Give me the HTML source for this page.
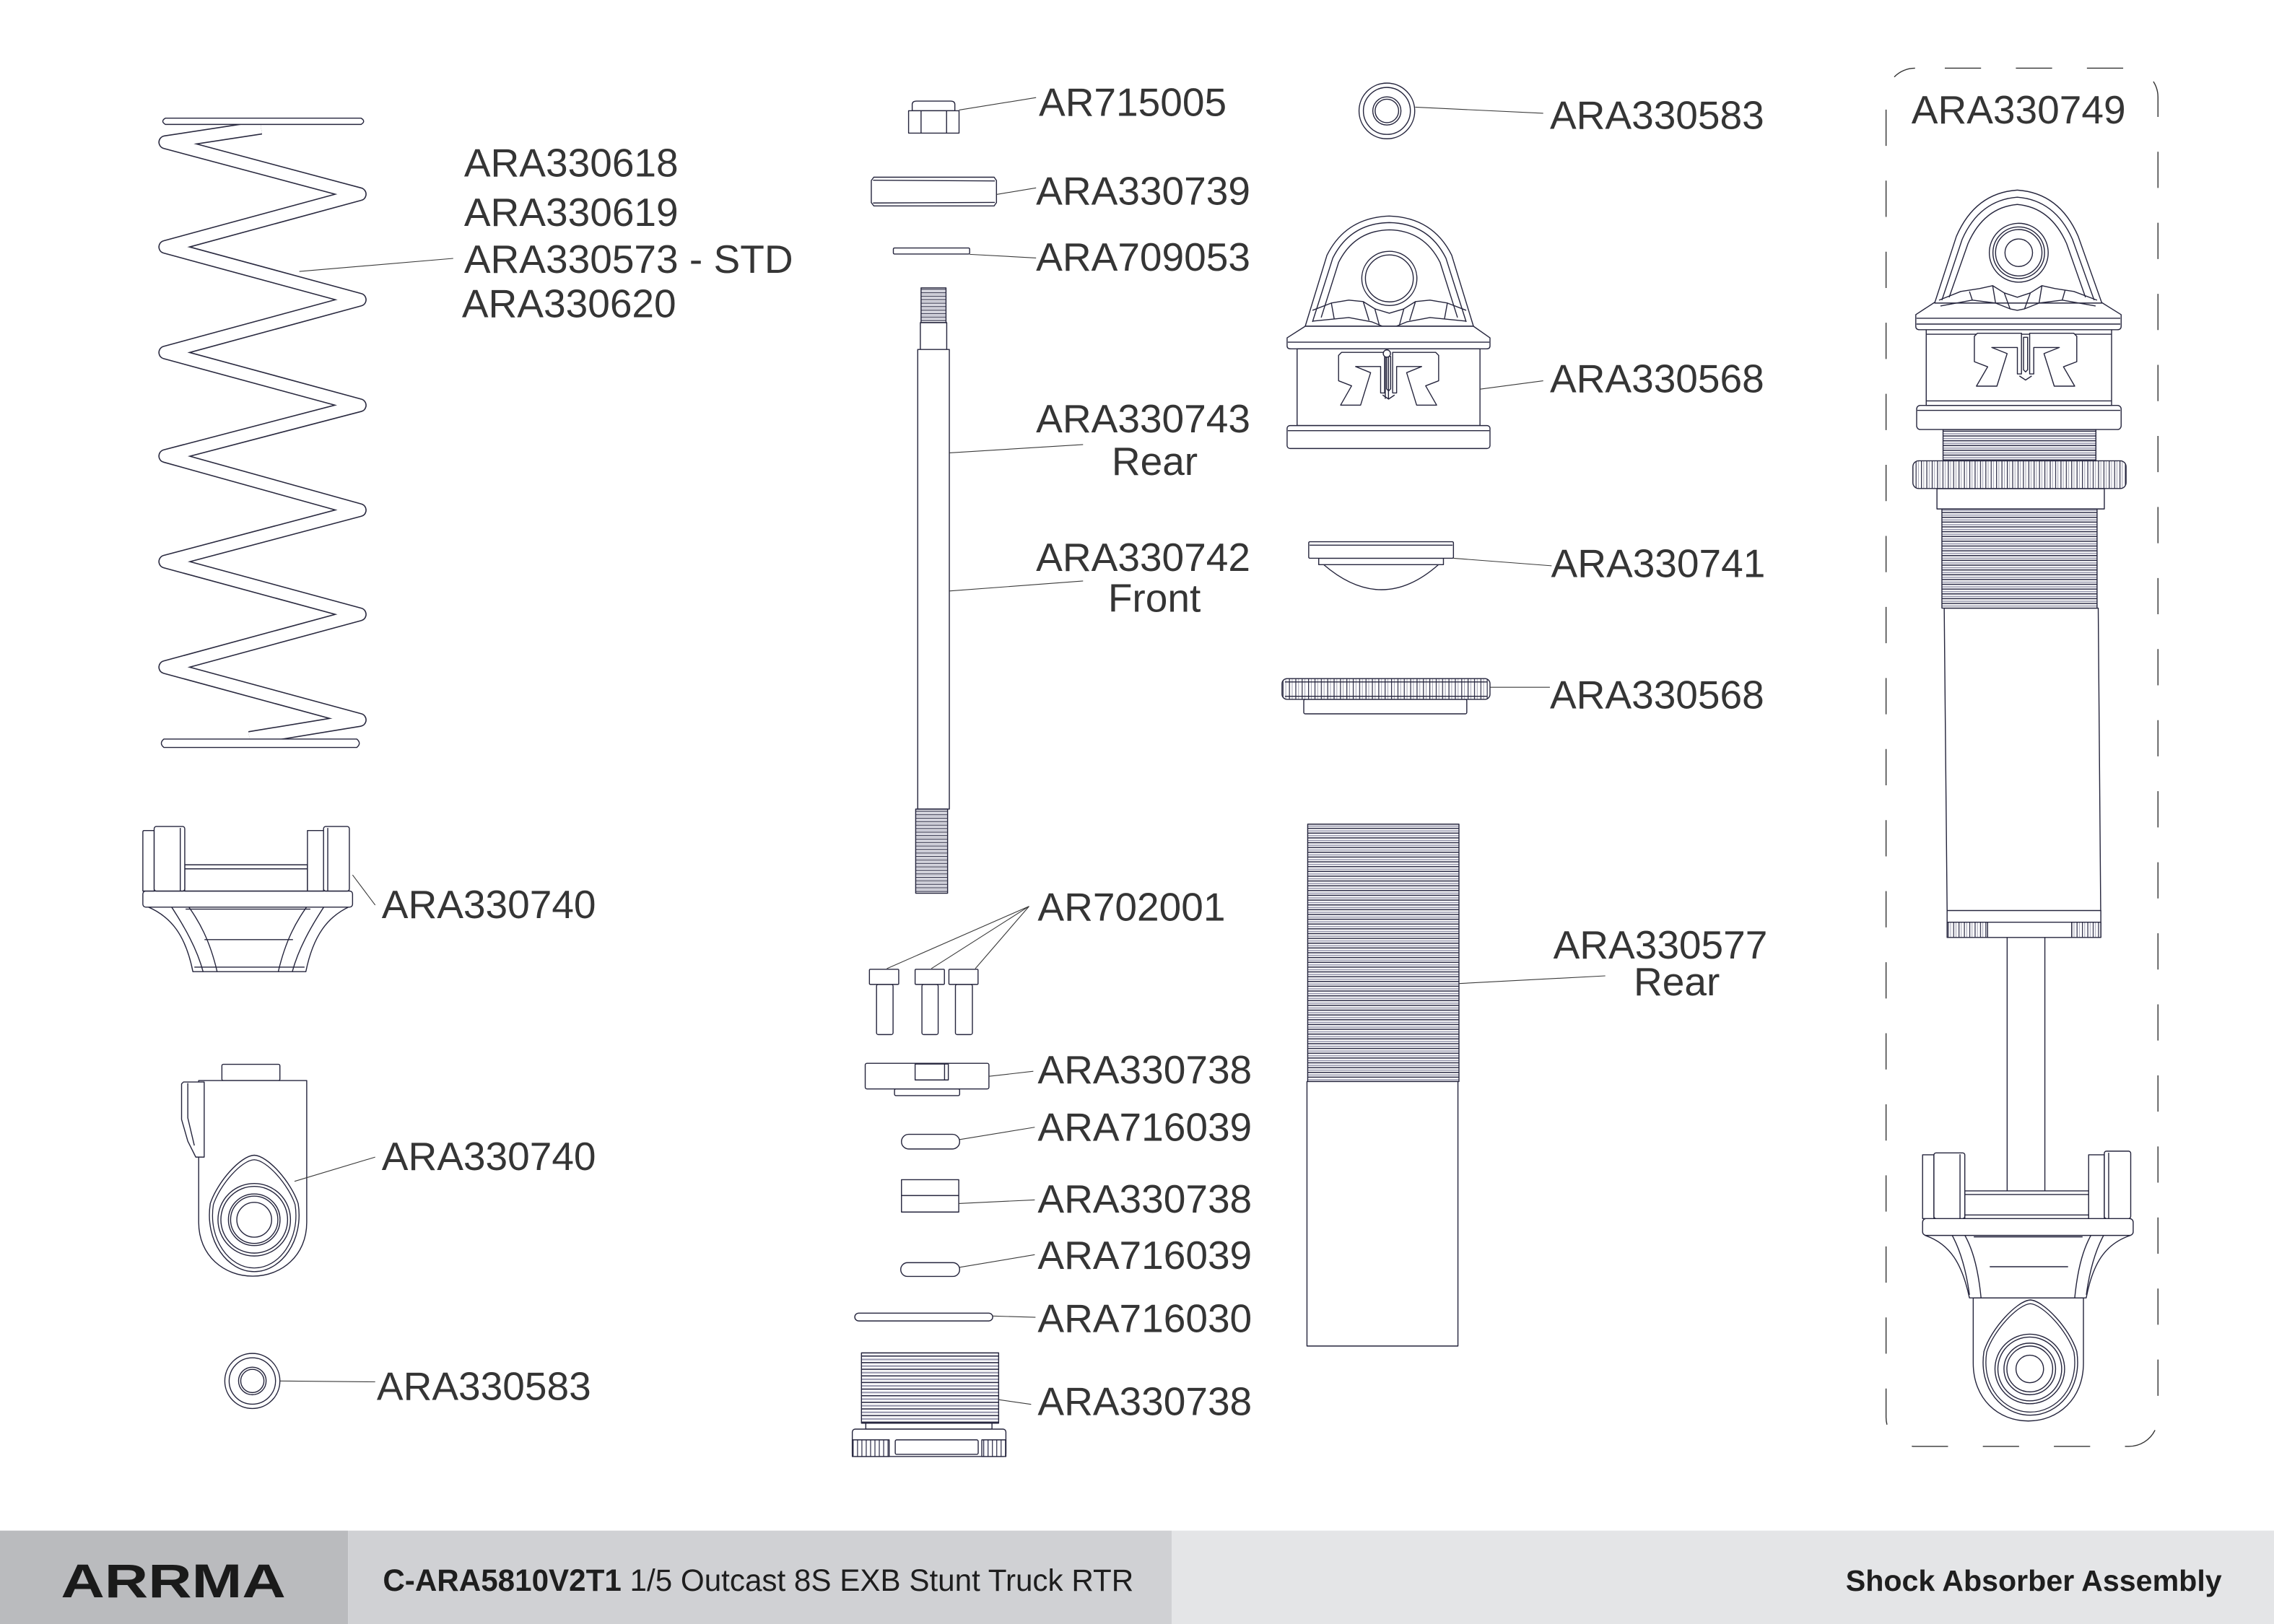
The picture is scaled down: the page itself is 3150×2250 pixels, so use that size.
<!DOCTYPE html>
<html><head><meta charset="utf-8">
<style>
html,body{margin:0;padding:0;background:#fff;}
svg{display:block;}
text{font-family:"Liberation Sans",Arial,sans-serif;}
</style></head><body>
<svg xmlns="http://www.w3.org/2000/svg" width="3150" height="2250" viewBox="0 0 1568 1120">
<defs>
<pattern id="t24" patternUnits="userSpaceOnUse" width="20" height="2.4"><rect width="20" height="2.4" fill="#fff"/><rect y="0" width="20" height="0.6" fill="#2a2a45"/><rect y="1.3" width="20" height="0.5" fill="#9a9ab0"/></pattern>
<pattern id="t33" patternUnits="userSpaceOnUse" width="20" height="3.3"><rect width="20" height="3.3" fill="#fff"/><rect y="0" width="20" height="0.75" fill="#2a2a45"/><rect y="1.8" width="20" height="0.7" fill="#8d8da5"/></pattern>
<pattern id="t46" patternUnits="userSpaceOnUse" width="20" height="4.56"><rect width="20" height="4.56" fill="#fff"/><rect y="0" width="20" height="0.8" fill="#2a2a45"/><rect y="2.2" width="20" height="1.1" fill="#9a9ab0"/></pattern>
<pattern id="k37" patternUnits="userSpaceOnUse" width="3.7" height="10"><rect width="3.7" height="10" fill="#fff"/><rect x="0" width="0.6" height="10" fill="#2a2a45"/><rect x="1.7" width="0.4" height="10" fill="#8a8aa0"/></pattern>
<pattern id="k44" patternUnits="userSpaceOnUse" width="4.4" height="10"><rect width="4.4" height="10" fill="#fff"/><rect x="0" width="0.6" height="10" fill="#2a2a45"/><rect x="2" width="0.4" height="10" fill="#8a8aa0"/></pattern>
<pattern id="k30" patternUnits="userSpaceOnUse" width="3" height="10"><rect width="3" height="10" fill="#fff"/><rect x="0" width="0.6" height="10" fill="#2a2a45"/></pattern>
<g id="emb">
<path d="M0,3 L3,0 L46,0 L46,40 L42,40 L42,14 L17,14 L32,20 L22,52 L2,52 L13,33 L0,28 Z"/>
<path d="M100,3 L97,0 L54,0 L54,40 L58,40 L58,14 L83,14 L68,20 L78,52 L98,52 L87,33 L100,28 Z"/>
<path d="M48,4 L52,4 L52,36 L50,38 L48,36 Z"/>
<path d="M44,42 L50,46 L56,42" fill="none"/>
</g>
</defs>
<rect width="1568" height="1120" fill="#fff"/>

<!-- ============ SPRING ============ -->
<path d="M180,88 L114,98.1 L248,133.9 L114,170.3 L248,206.7 L114,243.1 L248,279.5 L114,314.5 L248,351.8 L114,387.3 L248,423.7 L114,460.1 L248,496.5 L172,509" fill="none" stroke="#2a2a40" stroke-width="9.6" stroke-linejoin="round"/>
<path d="M180,88 L114,98.1 L248,133.9 L114,170.3 L248,206.7 L114,243.1 L248,279.5 L114,314.5 L248,351.8 L114,387.3 L248,423.7 L114,460.1 L248,496.5 L172,509" fill="none" stroke="#fff" stroke-width="8.0" stroke-linejoin="round"/>

<g fill="#fff" stroke="#25253d" stroke-width="0.7" stroke-linejoin="round">
<path d="M114,81.5 L249,81.5 Q252.5,83.6 249,85.8 L114,85.8 Q110.5,83.6 114,81.5 Z"/>
<path d="M113,509.7 L246,509.7 Q249.5,512.6 246,515.5 L113,515.5 Q109.5,512.6 113,509.7 Z"/>

<!-- ============ MOUNT 1 (left) ============ -->
<path d="M101,625 C118,632 128,645 133,670.1 L210.9,670.1 C216,645 226,632 241.5,625 Z"/>
<path d="M126,620 C138,635 145,650 149.7,670 M116,622 C128,640 136,655 140,670 M215.6,620 C203.6,635 196.6,650 191.9,670 M225.6,622 C213.6,640 205.6,655 201.6,670 M128,627 L214,627 M141,648 L202,648 M134,667 L210,667" fill="none"/>
<rect x="98.5" y="614.5" width="144.6" height="11.1" rx="2"/>
<rect x="127.4" y="596.4" width="84.6" height="18.1"/>
<path d="M127.4,599.2 L212,599.2" fill="none"/>
<path d="M98.5,614.5 L98.5,573.8 Q98.5,572.8 99.5,572.8 L106.3,572.8 L106.3,614.5 Z"/>
<rect x="106.3" y="570" width="21.1" height="44.5" rx="1.5"/>
<path d="M124.3,571 L124.3,614.5" fill="none"/>
<rect x="212" y="572.8" width="11.1" height="41.7"/>
<rect x="223.1" y="570" width="17.8" height="44.5" rx="1.5"/>
<path d="M226,571 L226,614.5" fill="none"/>

<!-- ============ MOUNT 2 (left) ============ -->
<rect x="153" y="734" width="40" height="11.2" rx="1"/>
<path d="M137,745.2 L211.5,745.2 L211.5,843 C211.5,866 194,880.1 174.3,880.1 C154.5,880.1 137,866 137,843 Z"/>
<path d="M125.2,747.5 L126.5,746.2 L140.8,746.2 L140.8,798 L135,798 L129.5,787 L125.2,772 Z"/>
<path d="M129.5,747 L129.5,771 L134,790" fill="none"/>
<path d="M175.3,796.7 C166,797 150,815 145,830 C141,856 157,877 175.3,877 C193.6,877 209.6,856 205.6,830 C200.6,815 184.6,797 175.3,796.7 Z"/>
<path d="M175.3,796.7 C166,797 150,815 145,830 C141,856 157,877 175.3,877 C193.6,877 209.6,856 205.6,830 C200.6,815 184.6,797 175.3,796.7 Z" transform="translate(175.3,841) scale(0.93) translate(-175.3,-841)"/>
<circle cx="175.3" cy="841.2" r="25"/>
<circle cx="175.3" cy="841.2" r="23"/>
<circle cx="175.3" cy="841.2" r="17.8"/>
<circle cx="175.3" cy="841.2" r="16.3"/>
<circle cx="175.3" cy="841.2" r="12"/>

<!-- washer left -->
<circle cx="174" cy="952.4" r="19"/>
<circle cx="174" cy="952.4" r="16"/>
<circle cx="174" cy="952.4" r="9.5"/>
<circle cx="174" cy="952.4" r="8"/>

<!-- ============ MIDDLE COLUMN ============ -->
<path d="M629,76.4 L629,72 Q629,69.7 632,69.7 L655.5,69.7 Q658.4,69.7 658.4,72 L658.4,76.4 Z"/>
<rect x="626.5" y="76.4" width="34.8" height="15.4"/>
<path d="M635.1,76.4 L635.1,91.8 M652.7,76.4 L652.7,91.8" fill="none"/>
<path d="M602.5,122.2 L685.5,122.2 L687.1,124.5 L687.1,139.7 L685.5,142 L602.5,142 L600.8,139.7 L600.8,124.5 Z"/>
<path d="M602,124.3 L686,124.8 M602,140 L686,139.6" fill="none"/>
<rect x="616" y="171" width="52.6" height="4.2" rx="0.8"/>
<rect x="635.1" y="198.5" width="17.2" height="24" fill="url(#t24)"/>
<rect x="634.6" y="222.5" width="18.2" height="18.5"/>
<rect x="632.8" y="241" width="21.8" height="317"/>
<rect x="631.4" y="558" width="22" height="58" fill="url(#t24)"/>
<rect x="604.4" y="678.9" width="11.4" height="34.6" rx="1.2"/>
<rect x="599.5" y="668.5" width="20.2" height="10.4" rx="0.6"/>
<rect x="635.7" y="678.9" width="11.2" height="34.6" rx="1.2"/>
<rect x="631" y="668.5" width="20.2" height="10.4" rx="0.6"/>
<rect x="658.8" y="678.9" width="11.7" height="34.6" rx="1.2"/>
<rect x="654.3" y="668.5" width="20.1" height="10.4" rx="0.6"/>
<rect x="616.8" y="751" width="44.9" height="4.6" rx="1"/>
<rect x="596.6" y="733.3" width="85.3" height="17.7" rx="1.2"/>
<rect x="631" y="733.8" width="22.9" height="11"/>
<path d="M651.3,733.8 L651.3,744.8" fill="none"/>
<rect x="621.6" y="782.3" width="40.1" height="10.1" rx="5"/>
<rect x="621.6" y="813.6" width="39.5" height="22.3"/>
<path d="M621.6,824.5 L661.1,824.5" fill="none"/>
<rect x="621.1" y="870.8" width="40.6" height="9.5" rx="4.7"/>
<rect x="589.4" y="905.6" width="95.1" height="5.4" rx="2.7"/>
<rect x="594" y="933" width="94.6" height="48.5" fill="url(#t46)"/>
<rect x="597" y="981.5" width="87" height="4.1"/>
<rect x="587.7" y="985.6" width="105.9" height="18.9" rx="2"/>
<rect x="587.7" y="993" width="25.4" height="11.5" fill="url(#k30)"/>
<rect x="677" y="993" width="16.6" height="11.5" fill="url(#k30)"/>
<rect x="617.3" y="993" width="57.2" height="10" rx="1"/>

<!-- ============ THIRD COLUMN ============ -->
<circle cx="956.3" cy="76.5" r="19.2"/>
<circle cx="956.3" cy="76.5" r="16.2"/>
<circle cx="956.3" cy="76.5" r="9.7"/>
<circle cx="956.3" cy="76.5" r="8.1"/>

<path d="M900,225 L915,176 Q928,150 958,149 Q988,150 1001,176 L1016,225 Z"/>
<path d="M905,222 L919,178 Q931,154 958,153.5 Q985,154 997,178 L1011,222" fill="none"/>
<path d="M911,219 L923,181 Q934,159 958,158.5 Q982,159 993,181 L1005,219" fill="none"/>
<ellipse cx="958" cy="192" rx="19" ry="18.7"/>
<ellipse cx="958" cy="192" rx="16.5" ry="16.2"/>
<path d="M905,214 L918,209 L930,207 L940,208 L948,213 L958,216 L968,213 L976,208 L986,207 L998,209 L1011,214 M905,221.5 L930,219 L946,222 L958,227 L970,222 L986,219 L1011,221.5 M918,209 L920,220 M940,208 L944,221 M948,213 L951,224 M968,213 L965,224 M976,208 L972,221 M998,209 L996,220" fill="none"/>
<path d="M887.5,233 L900,225 L1016,225 L1027.4,233 L1027.4,238.5 Q1027.4,240.6 1025,240.6 L890,240.6 Q887.5,240.6 887.5,238.5 Z"/>
<path d="M888,236 L1027,236" fill="none"/>
<rect x="894.4" y="240.6" width="126.1" height="52.9"/>
<use href="#emb" transform="translate(923,243) scale(0.69,0.70)" stroke-width="1"/>
<circle cx="956.3" cy="243.8" r="2.5"/>
<path d="M955.2,246.2 L955.2,275 M957.4,246.2 L957.4,275" fill="none"/>
<rect x="887.5" y="293.5" width="139.9" height="15.8" rx="2"/>
<path d="M888,297 L1027,297" fill="none"/>

<path d="M912.7,389.4 Q952.9,424 991.9,389.4 Z"/>
<rect x="909.3" y="385" width="86" height="4.4"/>
<rect x="902.4" y="373.6" width="99.8" height="11.4" rx="0.8"/>
<path d="M903,376 L1001.6,376" fill="none"/>

<rect x="899" y="482.3" width="112.4" height="10" rx="1"/>
<rect x="884" y="468" width="143.4" height="14.3" rx="3.5" fill="url(#k44)"/>
<path d="M886,470.3 L1025.4,470.3 M886,480.2 L1025.4,480.2" fill="none"/>

<rect x="901.7" y="568.4" width="104.3" height="177.5" fill="url(#t33)"/>
<rect x="901.2" y="745.9" width="104.1" height="182.4"/>

<!-- ============ RIGHT ASSEMBLY ============ -->
<path d="M1384,640 L1384,822 M1410,640 L1410,822" fill="none"/>
<path d="M1360.6,895.1 L1360.6,940 C1360.6,965 1378,980 1398.6,980 C1419,980 1436.6,965 1436.6,940 L1436.6,895.1 Z"/>
<path d="M1327.4,852 C1345,858 1353,872 1358,895.1 L1438.5,895.1 C1443,872 1451,858 1469,852 Z"/>
<path d="M1351,846 C1360,858 1364,875 1366,895 M1345,850 C1352,862 1356,878 1358,893 M1445.6,846 C1436.6,858 1432.6,875 1430.6,895 M1451.6,850 C1444.6,862 1440.6,878 1438.6,893 M1361,853 L1436,853 M1372,873.6 L1426,873.6" fill="none"/>
<rect x="1325.7" y="840.4" width="145.2" height="11.6" rx="2.5"/>
<rect x="1354.8" y="821.3" width="85.4" height="19.1"/>
<path d="M1354.8,823.8 L1440.2,823.8 M1354.8,837.9 L1440.2,837.9" fill="none"/>
<rect x="1325.7" y="796.4" width="7.8" height="44"/>
<rect x="1333.5" y="795.1" width="21.3" height="45.3" rx="1.5"/>
<path d="M1351.5,796 L1351.5,840.4" fill="none"/>
<rect x="1440.2" y="796.4" width="10.8" height="44"/>
<rect x="1451" y="793.9" width="18.2" height="46.5" rx="1.5"/>
<path d="M1454,795 L1454,840.4" fill="none"/>
<path d="M1400,896.5 C1391,897 1373,916 1368,932 C1364,958 1381,976 1400,976 C1419,976 1436,958 1432,932 C1427,916 1409,897 1400,896.5 Z"/>
<path d="M1400,896.5 C1391,897 1373,916 1368,932 C1364,958 1381,976 1400,976 C1419,976 1436,958 1432,932 C1427,916 1409,897 1400,896.5 Z" transform="translate(1399.6,940) scale(0.94) translate(-1399.6,-940)"/>
<circle cx="1399.6" cy="944.1" r="24"/>
<circle cx="1399.6" cy="944.1" r="22"/>
<circle cx="1399.6" cy="944.1" r="17.8"/>
<circle cx="1399.6" cy="944.1" r="15.8"/>
<circle cx="1399.6" cy="944.1" r="9.5"/>

<path d="M1340.6,419.4 L1446.8,419.4 L1448.5,628 L1342.6,628 Z"/>
<rect x="1342.6" y="628" width="106" height="18.5"/>
<rect x="1342.6" y="636" width="106" height="10.5" fill="url(#k37)"/>
<rect x="1370.5" y="636" width="58" height="10.5"/>
<rect x="1339" y="351" width="107" height="68.4" fill="url(#t33)"/>
<rect x="1335.6" y="337" width="115.4" height="14"/>
<rect x="1319" y="317.8" width="147" height="19.1" rx="4" fill="url(#k37)"/>
<rect x="1339.8" y="296.2" width="105.4" height="21.6" fill="url(#t33)"/>
<rect x="1321.6" y="279.6" width="141" height="16.6" rx="2.5"/>
<path d="M1322,283 L1462,283" fill="none"/>
<rect x="1328.2" y="227.4" width="127.8" height="52.2"/>
<path d="M1328.2,230.5 L1456,230.5 M1328.2,276.5 L1456,276.5" fill="none"/>
<use href="#emb" transform="translate(1361.4,229.8) scale(0.706,0.702)" stroke-width="1"/>
<path d="M1321,217 L1334,208.5 L1449,208.5 L1462.6,217 L1462.6,225 Q1462.6,227.4 1460,227.4 L1323.6,227.4 Q1321,227.4 1321,225 Z"/>
<path d="M1321.5,219.5 L1462,219.5 M1321.5,223.5 L1462,223.5" fill="none"/>
<path d="M1334,209 L1349,163 Q1362,133 1391,131.1 Q1420,133 1433,163 L1449.3,209 Z"/>
<path d="M1339,207 L1353,165 Q1365,138 1391,136 Q1417,138 1429,165 L1444,207 M1344,205 L1357,168 Q1368,143 1391,141 Q1414,143 1425,168 L1438,205" fill="none"/>
<path d="M1337,207 L1352,201 L1365,199 L1374,197 L1382,202 L1391,205 L1400,202 L1408,197 L1417,199 L1430,201 L1446,207 M1338,211 L1360,207 L1376,209 L1386,213 L1391,214 L1396,213 L1406,209 L1422,207 L1445,211 M1358,201 L1360,207 M1374,197 L1376,209 M1382,202 L1386,213 M1400,202 L1396,213 M1408,197 L1406,209 M1424,200 L1422,207" fill="none"/>
<circle cx="1392" cy="174.3" r="20.3"/>
<circle cx="1392" cy="174.3" r="17.8"/>
<circle cx="1392" cy="174.3" r="16"/>
<circle cx="1392" cy="174.3" r="9.5"/>
</g>

<rect x="1300.5" y="47" width="187.5" height="950.5" rx="20" fill="none" stroke="#333" stroke-width="0.7" stroke-dasharray="25 24" stroke-dashoffset="28.5"/>

<g stroke="#3a3a3a" stroke-width="0.55" fill="none">
<path d="M206.4,187.2 L312.5,178.2"/>
<path d="M661.3,75.9 L714.4,67.3"/>
<path d="M687.1,134.1 L714.4,129.6"/>
<path d="M668.6,175.4 L714.4,177.9"/>
<path d="M654.6,312.3 L746.8,306.6"/>
<path d="M654.6,407.6 L746.8,400.7"/>
<path d="M709.6,625 L611.5,668 M709.6,625 L642.2,668 M709.6,625 L672.5,668"/>
<path d="M681.9,742.3 L712.5,738.8"/>
<path d="M661.7,785.9 L713.5,777.4"/>
<path d="M661.1,830 L713.5,827.5"/>
<path d="M661.7,874 L713.5,865.3"/>
<path d="M684.5,907.6 L714,908.5"/>
<path d="M688.6,965.3 L711,968.5"/>
<path d="M243.1,603.4 L258.7,624.2"/>
<path d="M203.1,814.7 L258.7,798"/>
<path d="M193,952.4 L258.7,953"/>
<path d="M975.8,73.9 L1064.1,78.1"/>
<path d="M1020.5,268.4 L1064.1,262.6"/>
<path d="M1002.2,385 L1069.9,390.2"/>
<path d="M1027.4,474 L1068.7,474"/>
<path d="M1006,678.3 L1106.9,673"/>
</g>

<g font-size="27.4" fill="#353535">
<text x="320" y="121.8">ARA330618</text>
<text x="320" y="155.9">ARA330619</text>
<text x="320" y="188.2">ARA330573 - STD</text>
<text x="318.5" y="218.8">ARA330620</text>

<text x="716.3" y="79.8">AR715005</text>
<text x="714.4" y="141.2">ARA330739</text>
<text x="714.4" y="186.7">ARA709053</text>
<text x="714.4" y="298.1">ARA330743</text>
<text x="766.5" y="327.6">Rear</text>
<text x="714.4" y="393.7">ARA330742</text>
<text x="764" y="421.8">Front</text>
<text x="715.5" y="634.8">AR702001</text>
<text x="715.5" y="747.2">ARA330738</text>
<text x="715.5" y="786.7">ARA716039</text>
<text x="715.5" y="836.2">ARA330738</text>
<text x="715.5" y="875.1">ARA716039</text>
<text x="715.5" y="918.7">ARA716030</text>
<text x="715.5" y="975.8">ARA330738</text>

<text x="263.2" y="633.2">ARA330740</text>
<text x="263.2" y="806.8">ARA330740</text>
<text x="259.8" y="965.5">ARA330583</text>

<text x="1068.7" y="88.8">ARA330583</text>
<text x="1068.7" y="270.5">ARA330568</text>
<text x="1069.5" y="398">ARA330741</text>
<text x="1068.7" y="488.5">ARA330568</text>
<text x="1071" y="661">ARA330577</text>
<text x="1126.5" y="686.5">Rear</text>

<text x="1318" y="85">ARA330749</text>
</g>

<rect x="0" y="1055.6" width="240" height="64.4" fill="#babbbe"/>
<rect x="240" y="1055.6" width="568" height="64.4" fill="#d0d1d4"/>
<rect x="808" y="1055.6" width="760" height="64.4" fill="#e4e5e7"/>
<text x="42" y="1101.5" font-size="33" font-weight="bold" textLength="155" lengthAdjust="spacingAndGlyphs" fill="#1a1a1a">ARRMA</text>
<text x="264" y="1097" font-size="21" fill="#1e1e1e"><tspan font-weight="bold">C-ARA5810V2T1</tspan> 1/5 Outcast 8S EXB Stunt Truck RTR</text>
<text x="1532" y="1097" font-size="20.5" font-weight="bold" text-anchor="end" fill="#1e1e1e">Shock Absorber Assembly</text>
</svg>
</body></html>
